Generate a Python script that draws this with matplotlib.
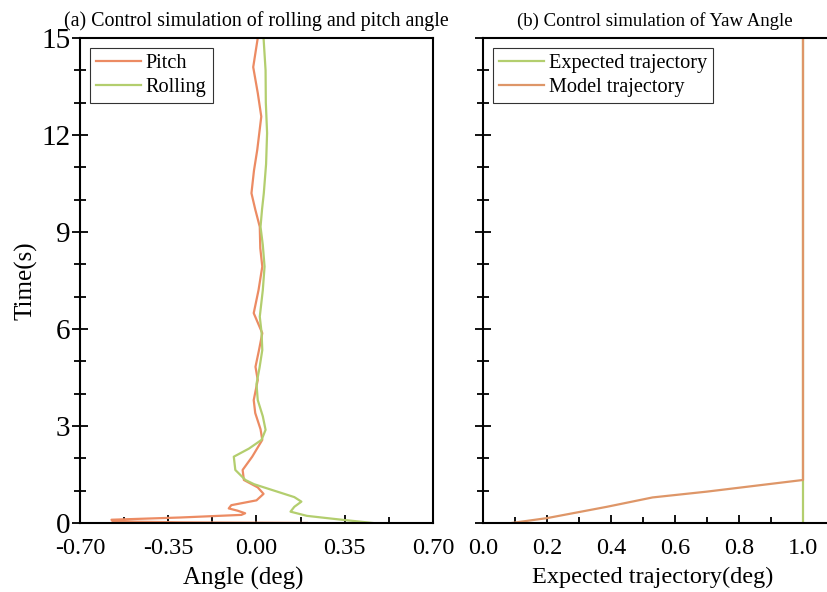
import numpy as np
import matplotlib.pyplot as plt
from matplotlib.ticker import MultipleLocator

plt.rcParams['font.family'] = ['Liberation Serif', 'DejaVu Serif']
plt.rcParams['mathtext.fontset'] = 'stix'

# --- data ---
pitch_t = [0.00, 0.02, 0.05, 0.10, 0.17, 0.25, 0.30, 0.38, 0.45, 0.55, 0.70,
           0.90, 1.10, 1.33, 1.64, 2.05, 2.57, 2.90, 3.40, 3.80, 4.42, 4.83,
           5.35, 5.87, 6.49, 7.20, 7.93, 8.50, 9.16, 9.70, 10.20, 10.90,
           11.54, 12.57, 13.30, 14.10, 15.00]
pitch = [0.20, -0.30, -0.57, -0.575, -0.30, -0.06, -0.045, -0.075, -0.11,
         -0.10, 0.00, 0.028, 0.005, -0.05, -0.055, -0.017, 0.023, 0.016,
         -0.005, -0.011, 0.005, -0.004, 0.010, 0.023, -0.011, 0.008, 0.023,
         0.015, 0.013, -0.005, -0.020, -0.010, 0.003, 0.019, 0.005, -0.013,
         0.005]

roll_t = [0.00, 0.05, 0.09, 0.15, 0.22, 0.35, 0.50, 0.66, 0.80, 0.95, 1.07,
          1.20, 1.33, 1.64, 2.05, 2.30, 2.57, 2.88, 3.30, 3.80, 4.30, 4.80,
          5.35, 5.90, 6.38, 7.20, 7.93, 8.60, 9.16, 9.70, 10.20, 11.10,
          12.06, 13.00, 14.00, 15.00]
rolling = [0.46, 0.40, 0.35, 0.28, 0.20, 0.135, 0.15, 0.178, 0.15, 0.09,
           0.042, -0.01, -0.044, -0.084, -0.09, -0.03, 0.02, 0.036, 0.025,
           0.005, 0.000, 0.012, 0.023, 0.020, 0.013, 0.025, 0.032, 0.025,
           0.016, 0.022, 0.029, 0.038, 0.042, 0.037, 0.036, 0.028]

expected_t = [0, 15]
expected = [1.0, 1.0]
model_t = [0.00, 0.15, 0.50, 0.79, 0.97, 1.33, 15.0]
model = [0.09, 0.20, 0.387, 0.53, 0.70, 1.00, 1.00]

c_orange = '#EC8B63'
c_green = '#B3CE6E'
c_model = '#DE9668'

fig = plt.figure(figsize=(8.27, 5.92), dpi=100)
ax1 = fig.add_axes([0.0967, 0.1166, 0.4269, 0.8192])
ax2 = fig.add_axes([0.584, 0.1166, 0.416, 0.8192])

ax1.plot(pitch, pitch_t, color=c_orange, lw=1.6, label='Pitch')
ax1.plot(rolling, roll_t, color=c_green, lw=1.6, label='Rolling')
ax1.set_xlim(-0.7, 0.7)
ax1.set_xticks([-0.7, -0.35, 0, 0.35, 0.7])
ax1.set_xticklabels(['-0.70', '-0.35', '0.00', '0.35', '0.70'])
ax1.xaxis.set_minor_locator(MultipleLocator(0.175))
ax1.set_xlabel('Angle (deg)', fontsize=18)
ax1.set_ylabel('Time(s)', fontsize=18)
ax1.set_title('(a) Control simulation of rolling and pitch angle',
              fontsize=14.4, pad=9)

ax2.plot(expected, expected_t, color=c_green, lw=1.6, label='Expected trajectory')
ax2.plot(model, model_t, color=c_model, lw=1.6, label='Model trajectory')
ax2.set_xlim(0, 1.075)
ax2.set_xticks([0, 0.2, 0.4, 0.6, 0.8, 1.0])
ax2.xaxis.set_minor_locator(MultipleLocator(0.1))
ax2.set_xlabel('Expected trajectory(deg)', fontsize=17.5)
ax2.set_yticklabels([])
ax2.set_title('(b) Control simulation of Yaw Angle', fontsize=13.5, pad=9)
ax2.spines['right'].set_visible(False)

for ax in (ax1, ax2):
    ax.set_ylim(0, 15)
    ax.set_yticks([0, 3, 6, 9, 12, 15])
    ax.yaxis.set_minor_locator(MultipleLocator(1))
    for s in ax.spines.values():
        s.set_linewidth(1.5)
    ax.tick_params(axis='x', which='both', direction='in', labelsize=17.5,
                   width=1.3, pad=11)
    ax.tick_params(axis='x', which='major', length=6)
    ax.tick_params(axis='x', which='minor', length=4)
    ax.tick_params(axis='y', which='both', direction='inout', labelsize=21,
                   width=1.3, pad=1)
    ax.tick_params(axis='y', which='major', length=12)
    ax.tick_params(axis='y', which='minor', length=8)
    leg = ax.legend(loc='upper left', fontsize=14.6, frameon=True, fancybox=False,
                    handlelength=2.2, handletextpad=0.25, borderpad=0.3,
                    labelspacing=0.2, borderaxespad=0.5)
    leg.get_frame().set_edgecolor('black')
    leg.get_frame().set_linewidth(0.8)

ax1.yaxis.set_label_coords(-0.119, 0.5)
ax1.xaxis.set_label_coords(0.462, -0.091)
ax2.xaxis.set_label_coords(0.494, -0.091)

fig.savefig('out.png', dpi=100)
